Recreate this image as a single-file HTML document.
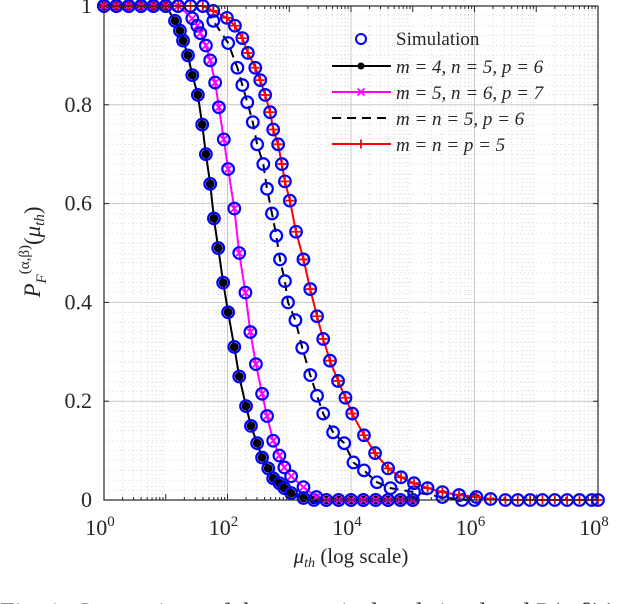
<!DOCTYPE html>
<html><head><meta charset="utf-8"><style>
body{margin:0;background:#fff;width:640px;height:604px;overflow:hidden}
svg{display:block}
text{font-family:"Liberation Serif","DejaVu Serif",serif;fill:#262626}
</style></head><body>
<svg id="chart" width="640" height="604" xmlns="http://www.w3.org/2000/svg">
<g id="grid"></g>
<g id="series"></g>
<g id="axes"></g>
<g id="legend"></g>
<text x="351" y="563" font-size="21" text-anchor="middle"><tspan font-style="italic">μ</tspan><tspan font-style="italic" font-size="14" dy="4">th</tspan><tspan dy="-4"> (log scale)</tspan></text>
<text transform="translate(40,252) rotate(-90)" font-size="23" text-anchor="middle"><tspan font-style="italic">P</tspan><tspan font-style="italic" font-size="15" dy="6">F</tspan><tspan font-size="15" dy="-17">(α,β)</tspan><tspan dy="11">(</tspan><tspan font-style="italic">μ</tspan><tspan font-style="italic" font-size="15" dy="4">th</tspan><tspan dy="-4">)</tspan></text>
<text x="0" y="621" font-size="26" fill="#333">Fig. 1: Comparison of the numerical and simulated P(α,β)(</text>
</svg>
<script>
const NS="http://www.w3.org/2000/svg";
const xTicks=[0,2,4,6,8];
const yTicks=[0,0.2,0.4,0.6,0.8,1];
const yTickLabels=["0","0.2","0.4","0.6","0.8","1"];
const seriesNames=["m = 4, n = 5, p = 6","m = 5, n = 6, p = 7","m = n = 5, p = 6","m = n = p = 5"];
const blackX=[0,0.2,0.4,0.6,0.8,1.0,1.15,1.23,1.28,1.36,1.43,1.52,1.59,1.65,1.72,1.78,1.85,1.93,2.01,2.11,2.19,2.30,2.38,2.48,2.56,2.66,2.74,2.84,2.92,3.03,3.23,3.4,3.6,3.8,4.0,4.2,4.4,4.6,4.8,5.0];
const blackY=[1,1,1,1,1,1,0.97,0.95,0.93,0.90,0.86,0.82,0.76,0.70,0.64,0.57,0.51,0.44,0.38,0.31,0.25,0.19,0.15,0.115,0.086,0.064,0.044,0.034,0.024,0.014,0.004,0,0,0,0,0,0,0,0,0];
const magX=[0,0.2,0.4,0.6,0.8,1.0,1.2,1.43,1.51,1.56,1.65,1.72,1.80,1.86,1.94,2.01,2.11,2.19,2.29,2.37,2.46,2.56,2.64,2.74,2.84,2.92,3.03,3.23,3.44,3.6,3.8,4.0,4.2,4.4,4.6,4.8,5.0];
const magY=[1,1,1,1,1,1,1,0.975,0.96,0.945,0.92,0.89,0.845,0.795,0.73,0.67,0.59,0.50,0.42,0.34,0.275,0.215,0.17,0.12,0.09,0.066,0.048,0.026,0.006,0,0,0,0,0,0,0,0];
const dashX=[0,0.2,0.4,0.6,0.8,1.0,1.2,1.4,1.6,1.77,2.01,2.16,2.24,2.32,2.41,2.48,2.58,2.64,2.72,2.79,2.85,2.93,2.98,3.10,3.21,3.34,3.45,3.55,3.71,3.89,4.04,4.21,4.42,4.64,5.02,5.48,5.8,6.0];
const dashY=[1,1,1,1,1,1,1,1,1,0.97,0.925,0.875,0.84,0.805,0.765,0.72,0.68,0.63,0.58,0.535,0.487,0.443,0.40,0.364,0.308,0.253,0.211,0.175,0.137,0.115,0.076,0.06,0.036,0.024,0.016,0.006,0,0];
const redX=[0,0.2,0.4,0.6,0.8,1.0,1.2,1.4,1.6,1.77,1.99,2.12,2.24,2.33,2.45,2.53,2.61,2.69,2.74,2.82,2.88,2.93,3.01,3.11,3.23,3.34,3.45,3.55,3.66,3.79,3.91,4.02,4.21,4.39,4.60,4.81,5.02,5.24,5.48,5.75,6.03,6.26,6.5,6.7,6.9,7.1,7.3,7.5,7.7,7.9,8.0];
const redY=[1,1,1,1,1,1,1,1,1,0.99,0.976,0.96,0.935,0.905,0.875,0.85,0.82,0.785,0.75,0.72,0.68,0.645,0.606,0.543,0.487,0.427,0.372,0.326,0.282,0.241,0.207,0.175,0.131,0.095,0.064,0.046,0.034,0.024,0.016,0.01,0.006,0.002,0,0,0,0,0,0,0,0,0];

const L=104,R=598,T=6,B=500;
const sx=v=>L+(v-0)/(8-0)*(R-L);
const sy=v=>B-v*(B-T);
function mk(tag,attrs,parent){const e=document.createElementNS(NS,tag);for(const k in attrs)e.setAttribute(k,attrs[k]);parent.appendChild(e);return e;}
const grid=document.getElementById('grid'),axes=document.getElementById('axes'),ser=document.getElementById('series'),leg=document.getElementById('legend');
for(let d=0;d<8;d++)for(let k=2;k<10;k++){const x=sx(d+Math.log10(k));
 const g=mk('line',{x1:x,x2:x,y1:T,y2:B,stroke:'#d0d0d0','stroke-width':1,'stroke-dasharray':'1,3'},grid);
 }
for(let i=1;i<50;i++){if(i%10===0)continue;const y=sy(i/50);
 const g=mk('line',{x1:L,x2:R,y1:y,y2:y,stroke:'#dcdcdc','stroke-width':1,'stroke-dasharray':'1,3'},grid);
 }
xTicks.forEach(t=>{const x=sx(t);const g=mk('line',{x1:x,x2:x,y1:T,y2:B,stroke:'#c8c8c8','stroke-width':1},grid);
 
 const tx=mk('text',{x:x-4,y:535,'font-size':22,'text-anchor':'middle'},axes);tx.textContent='10';
 
 const ts=mk('tspan',{'font-size':15,dy:-9},tx);ts.textContent=String(t);});
yTicks.forEach((t,i)=>{const y=sy(t);const g=mk('line',{x1:L,x2:R,y1:y,y2:y,stroke:'#c8c8c8','stroke-width':1},grid);
 
 const tx=mk('text',{x:92,y:y+7,'font-size':22,'text-anchor':'end'},axes);tx.textContent=yTickLabels[i];
 
 mk('line',{x1:L,x2:L+5,y1:y,y2:y,stroke:'#262626'},axes);mk('line',{x1:R,x2:R-5,y1:y,y2:y,stroke:'#262626'},axes);});
for(let d=0;d<8;d++)for(let k=1;k<10;k++){const x=sx(d+Math.log10(k));const h=k===1?6:3;
 mk('line',{x1:x,x2:x,y1:B,y2:B-h,stroke:'#262626'},axes);mk('line',{x1:x,x2:x,y1:T,y2:T+h,stroke:'#262626'},axes);}
const fr=mk('rect',{x:L,y:T,width:R-L,height:B-T,fill:'none',stroke:'#262626','stroke-width':1.2},axes);


function drawMarker(type,x,y,parent){
 if(type==='dot'){mk('circle',{cx:x,cy:y,r:4.4,fill:'#000'},parent);}
 else if(type==='x'){mk('path',{d:`M${x-3.5},${y-3.5}L${x+3.5},${y+3.5}M${x-3.5},${y+3.5}L${x+3.5},${y-3.5}`,stroke:'#ff00ff','stroke-width':1.8},parent);}
 else if(type==='plus'){mk('path',{d:`M${x-4.5},${y}L${x+4.5},${y}M${x},${y-4.5}L${x},${y+4.5}`,stroke:'#ff0000','stroke-width':1.8},parent);}
}
const defs=[[blackX,blackY,'#000','','dot','series-m4-n5-p6'],[magX,magY,'#ff00ff','','x','series-m5-n6-p7'],[dashX,dashY,'#000','9,6','none','series-m5-n5-p6'],[redX,redY,'#ff0000','','plus','series-m5-n5-p5']];
defs.forEach(([xs,ys,c,dash,m,name])=>{
 const g=mk('g',{},ser);
 const d=xs.map((v,i)=>(i?'L':'M')+sx(v).toFixed(1)+','+sy(ys[i]).toFixed(1)).join('');
 const p=mk('path',{d:d,fill:'none',stroke:c,'stroke-width':2,'stroke-dasharray':dash},g);
 
 xs.forEach((v,i)=>{const x=sx(v),y=sy(ys[i]);
  const ci=mk('circle',{cx:x,cy:y,r:5.8,fill:'none',stroke:'#0000ff','stroke-width':2.2},g);
  
  drawMarker(m,x,y,g);});
});
const lx1=332,lx2=391,lm=361,ltx=396;
const ls=mk('circle',{cx:lm,cy:39,r:5,fill:'none',stroke:'#0000ff','stroke-width':2},leg);

const t0=mk('text',{x:ltx,y:45,'font-size':19},leg);t0.textContent='Simulation';

const rowsY=[66,92,118,144];
defs.forEach(([xs,ys,c,dash,m,name],i)=>{const y=rowsY[i];
 const ln=mk('line',{x1:lx1,x2:lx2,y1:y,y2:y,stroke:c,'stroke-width':2,'stroke-dasharray':dash?'9,6':''},leg);
 
 if(m==='dot')mk('circle',{cx:lm,cy:y,r:3.5,fill:'#000'},leg);else drawMarker(m,lm,y,leg);
 const t=mk('text',{x:ltx,y:y+7,'font-size':19,'font-style':'italic'},leg);t.textContent=seriesNames[i];
 });
</script>
</body></html>
